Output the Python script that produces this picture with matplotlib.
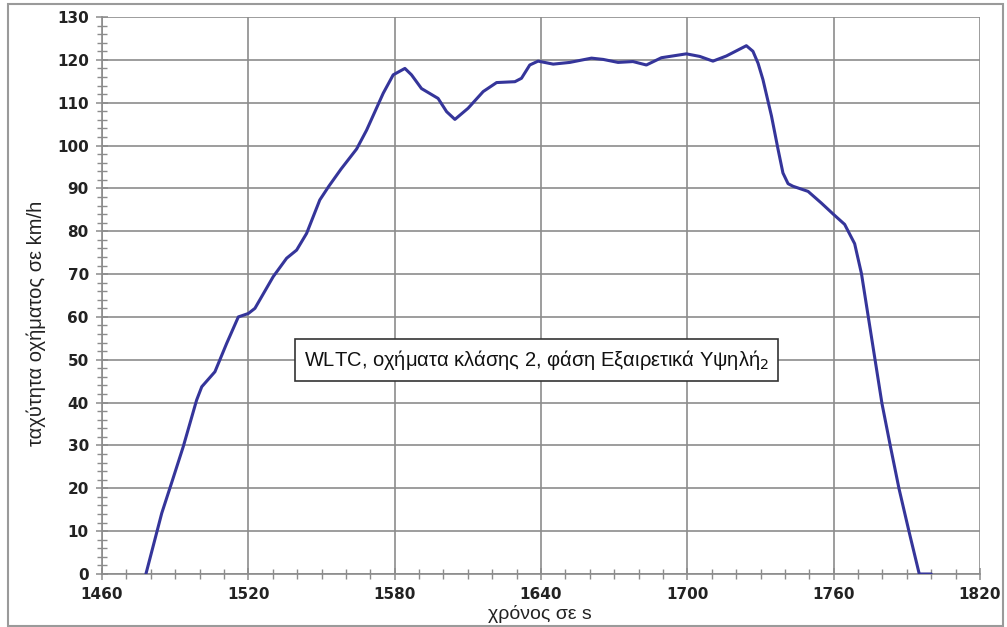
import matplotlib
matplotlib.use("Agg")
import matplotlib.pyplot as plt
from matplotlib.patches import Rectangle
from matplotlib.ticker import MultipleLocator

# ---- data ----
time_s = [1478, 1484.5, 1488.5, 1493.3, 1498.8, 1500.9, 1506.3, 1511.1, 1515.9, 1520,
          1522.7, 1530.2, 1535.7, 1539.8, 1543.9, 1549.3, 1553, 1558, 1564.4, 1568.5,
          1575.3, 1579.4, 1584.2, 1586.9, 1591, 1597.8, 1601.3, 1604.7, 1610.1, 1616.3,
          1621.8, 1629.3, 1632, 1635.4, 1638.8, 1645, 1651.8, 1660.7, 1665.5, 1671.6,
          1677.7, 1683.2, 1689.4, 1699.6, 1705.1, 1710.5, 1716, 1724.2, 1726.9, 1729,
          1731, 1734.5, 1737.2, 1739.2, 1741.3, 1743.3, 1749.5, 1754.9, 1760, 1764.5,
          1768.6, 1771.4, 1774.2, 1777, 1779.8, 1783.3, 1786.8, 1790.9, 1795.1, 1800]
speed_kmh = [0, 14.2, 21.2, 29.7, 40.6, 43.7, 47.2, 53.8, 60.0, 60.8,
             62.0, 69.4, 73.7, 75.6, 79.5, 87.3, 90.5, 94.5, 99.2, 103.6,
             112.2, 116.5, 118.0, 116.5, 113.3, 111.0, 107.9, 106.1, 108.7, 112.6,
             114.7, 114.9, 115.7, 118.8, 119.7, 119.0, 119.4, 120.4, 120.1, 119.4,
             119.6, 118.8, 120.5, 121.4, 120.8, 119.7, 120.9, 123.3, 122.0, 119.2,
             115.4, 106.9, 99.1, 93.6, 91.1, 90.5, 89.3, 86.6, 83.9, 81.6,
             77.1, 70.1, 60.0, 49.9, 39.8, 29.7, 19.9, 9.9, 0, 0]
x_ticks = [1460, 1520, 1580, 1640, 1700, 1760, 1820]
y_ticks = list(range(0, 131, 10))
x_label = "χρόνος σε s"
y_label = "ταχύτητα οχήματος σε km/h"
annotation = "WLTC, οχήματα κλάσης 2, φάση Εξαιρετικά Υψηλή$_2$"

W, H = 1007, 627
fig = plt.figure(figsize=(W / 100, H / 100), dpi=100)
ax = fig.add_axes([102 / W, 1 - 574 / H, (980 - 102) / W, (574 - 17) / H])

ax.plot(time_s, speed_kmh, color="#35359a", lw=2.2, solid_joinstyle="round",
        solid_capstyle="round", zorder=3)

ax.set_xlim(1460, 1820)
ax.set_ylim(0, 130)
ax.set_xticks(x_ticks)
ax.set_yticks(y_ticks)
ax.xaxis.set_minor_locator(MultipleLocator(10))
ax.yaxis.set_minor_locator(MultipleLocator(2))
ax.grid(True, which="major", color="#8c8c8c", lw=1.2)
ax.set_axisbelow(True)
for s in ["top", "right"]:
    ax.spines[s].set_visible(False)
for s in ["left", "bottom"]:
    ax.spines[s].set_color("#8c8c8c")
    ax.spines[s].set_linewidth(1.2)
ax.tick_params(which="major", direction="inout", length=9, color="#8c8c8c", width=1.1,
               labelsize=11, labelcolor="#222222", pad=5)
ax.tick_params(which="minor", direction="inout", length=7, color="#8c8c8c", width=1.0)
for lab in ax.get_xticklabels() + ax.get_yticklabels():
    lab.set_fontweight("bold")
    lab.set_family("DejaVu Sans")

fig.text(540 / W, 1 - 614 / H, x_label, ha="center", va="center",
         fontsize=14, family="Liberation Sans", color="#222222")
fig.text(36 / W, 1 - 323 / H, y_label, ha="center", va="center", rotation=90,
         fontsize=14.5, family="Liberation Sans", color="#222222")

ax.text(1638, 50, annotation, ha="center", va="center", fontsize=14.5,
        family="Liberation Sans", color="#111111", zorder=5,
        bbox=dict(boxstyle="square,pad=0.45", fc="white", ec="#333333", lw=1.2))

fig.patches.append(Rectangle((8 / W, 1 / H), (1003 - 8) / W, (623 - 1) / H,
                             transform=fig.transFigure, fill=False,
                             ec="#9a9a9a", lw=1.5))

fig.savefig("out.png", dpi=100)
